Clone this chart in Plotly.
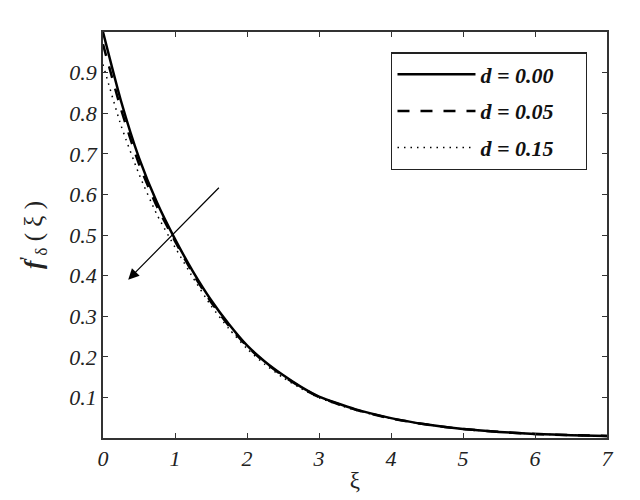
import plotly.graph_objects as go

# values
xi = [0, 0.25, 0.5, 0.75, 1, 1.25, 1.5, 1.75, 2, 2.25, 2.5, 2.75, 3, 3.5, 4, 4.5, 5, 5.5, 6, 6.5, 7]
f_d000 = [1.00, 0.83, 0.69, 0.58, 0.49, 0.41, 0.34, 0.28, 0.228, 0.188, 0.155, 0.126, 0.102,
          0.071, 0.049, 0.033, 0.022, 0.015, 0.010, 0.007, 0.005]
f_d005 = [0.97, 0.81, 0.675, 0.57, 0.485, 0.405, 0.335, 0.276, 0.226, 0.186, 0.153, 0.125, 0.101,
          0.070, 0.048, 0.033, 0.022, 0.015, 0.010, 0.007, 0.005]
f_d015 = [0.92, 0.77, 0.65, 0.55, 0.47, 0.395, 0.326, 0.269, 0.220, 0.181, 0.149, 0.122, 0.099,
          0.069, 0.048, 0.033, 0.022, 0.015, 0.010, 0.007, 0.005]
labels = ["d = 0.00", "d = 0.05", "d = 0.15"]
x_ticks = [0, 1, 2, 3, 4, 5, 6, 7]
y_ticks = [0.1, 0.2, 0.3, 0.4, 0.5, 0.6, 0.7, 0.8, 0.9]

# arrow (tail -> head) in data units
arrow_tail = (1.63, 0.62)
arrow_head = (0.35, 0.39)

serif = "Liberation Serif"
pad = "\u00a0" * 5  # keeps some room at the right of the legend box

fig = go.Figure()
fig.add_trace(go.Scatter(x=xi, y=f_d000, mode="lines", name=labels[0] + pad, legendgroup="a",
                         line=dict(color="black", width=2.5, shape="spline", smoothing=0.6)))
fig.add_trace(go.Scatter(x=xi, y=f_d005, mode="lines", name=labels[1] + pad, legendgroup="b",
                         line=dict(color="black", width=2.5, dash="12px,11px",
                                   shape="spline", smoothing=0.6)))
fig.add_trace(go.Scatter(x=xi, y=f_d015, mode="lines", name=labels[2] + pad, legendgroup="c",
                         line=dict(color="black", width=1.5, dash="1.5px,5px",
                                   shape="spline", smoothing=0.6)))

fig.add_annotation(x=arrow_head[0], y=arrow_head[1], ax=arrow_tail[0], ay=arrow_tail[1],
                   xref="x", yref="y", axref="x", ayref="y", text="",
                   showarrow=True, arrowhead=2, arrowsize=1.8, arrowwidth=1.2,
                   arrowcolor="black")

axis_common = dict(showline=True, linecolor="#333", linewidth=1.5, mirror="ticks",
                   ticks="inside", ticklen=5, tickcolor="#333", showgrid=False,
                   zeroline=False, automargin=False,
                   tickfont=dict(family=serif, size=22, color="#222", style="italic"))

fig.update_xaxes(range=[0, 7], tickvals=x_ticks,
                 title=dict(text="ξ", font=dict(family=serif, size=23, color="#222"),
                            standoff=2),
                 **axis_common)
fig.update_yaxes(range=[0, 1], tickvals=y_ticks, tickformat=".1f",
                 title=dict(text="<b><i>f</i></b><sup><b>'</b></sup><sub>δ</sub> ( ξ )",
                            font=dict(family=serif, size=25, color="#222"), standoff=20),
                 **axis_common)

# the page adds an 8px body margin, so the figure is a bit smaller than the window
fig.update_layout(
    width=632, height=492,
    margin=dict(l=95, r=33, t=24, b=62),
    paper_bgcolor="white", plot_bgcolor="white",
    showlegend=True,
    legend=dict(x=0.572, y=0.95, xanchor="left", yanchor="top",
                bordercolor="#222", borderwidth=1.2, bgcolor="white",
                font=dict(family=serif, size=22, color="#111", weight="bold", style="italic"),
                itemwidth=78, tracegroupgap=5),
)

fig.write_html("out.html")
